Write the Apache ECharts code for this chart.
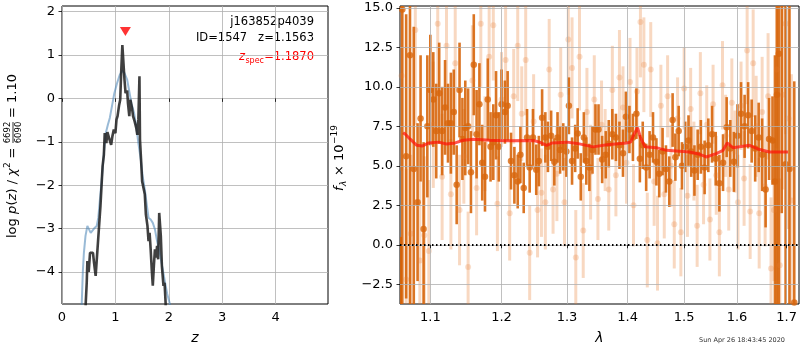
<!DOCTYPE html>
<html>
<head>
<meta charset="utf-8">
<script src="https://cdn.jsdelivr.net/npm/echarts@6/dist/echarts.min.js"></script>
<style>
  html, body { margin: 0; padding: 0; background: #fff; }
  #chart { width: 800px; height: 350px; }
</style>
</head>
<body>
<div id="chart"></div>
<script>
  // ---- left panel: log p(z) ----
  const zTicks = [0, 1, 2, 3, 4];
  const pTicks = [-4, -3, -2, -1, 0, 1, 2];
  const zDark = [0.43, 0.444, 0.463, 0.475, 0.5, 0.525, 0.556, 0.58, 0.6, 0.63, 0.66, 0.69, 0.72, 0.74, 0.76, 0.784, 0.80, 0.83, 0.85, 0.89, 0.92, 0.944, 0.97, 1.0, 1.02, 1.04, 1.07, 1.09, 1.11, 1.13, 1.15, 1.17, 1.19, 1.22, 1.235, 1.26, 1.28, 1.31, 1.33, 1.36, 1.39, 1.41, 1.43, 1.45, 1.46, 1.48, 1.50, 1.525, 1.55, 1.57, 1.60, 1.62, 1.64, 1.66, 1.68, 1.70, 1.72, 1.74, 1.76, 1.78, 1.80, 1.82, 1.85, 1.87, 1.90, 1.92, 1.94, 1.96];
  const pDark = [-6, -4.72, -4.25, -3.75, -4.0, -3.56, -3.59, -3.56, -3.79, -4.09, -4.11, -3.02, -2.48, -2.02, -1.56, -1.3, -0.80, -1.03, -0.78, -0.95, -1.07, -0.87, -0.72, -0.8, -0.49, -0.41, -0.15, -0.03, 0.66, 1.23, 1.2, 0.43, 0.12, 0.18, -0.11, -0.41, -0.03, -0.22, -0.41, -0.53, -0.68, -0.84, -0.49, 0.51, -0.95, -1.41, -1.91, -1.95, -2.21, -2.67, -2.94, -3.29, -3.1, -3.48, -3.94, -4.32, -3.86, -3.48, -3.67, -3.4, -3.71, -2.64, -3.17, -3.86, -4.32, -4.25, -4.72, -6];
  const zBlue = [0.36, 0.37, 0.39, 0.41, 0.44, 0.475, 0.506, 0.537, 0.56, 0.6, 0.65, 0.68, 0.71, 0.75, 0.784, 0.82, 0.86, 0.895, 0.94, 0.98, 1.03, 1.08, 1.13, 1.17, 1.22, 1.26, 1.30, 1.35, 1.39, 1.43, 1.475, 1.51, 1.55, 1.59, 1.62, 1.66, 1.70, 1.74, 1.78, 1.83, 1.88, 1.93, 1.97, 2.02, 2.06];
  const pBlue = [-6, -4.72, -4.0, -3.56, -3.17, -2.94, -2.98, -3.1, -3.13, -3.0, -2.94, -2.75, -2.33, -1.79, -1.26, -0.8, -0.6, -0.45, -0.15, 0.12, 0.35, 0.54, 0.64, 0.58, 0.43, 0.16, -0.11, -0.34, -0.64, -1.03, -1.41, -1.79, -2.1, -2.48, -2.75, -2.79, -2.87, -3.02, -3.29, -3.56, -3.9, -4.25, -4.51, -4.74, -5.2];
  const zSpec = 1.187;
  const zSpecMarkY = 1.54;

  // ---- right panel: spectrum ----
  const lamTicks = [1.1, 1.2, 1.3, 1.4, 1.5, 1.6, 1.7];
  const fTicks = [-2.5, 0, 2.5, 5, 7.5, 10, 12.5, 15];

  // combined spectrum (dark)
  const lamD = [1.061,
    1.063, 1.068, 1.073, 1.078, 1.083, 1.087, 1.091, 1.096,
    1.100, 1.104, 1.108, 1.112, 1.116, 1.120, 1.124, 1.128, 1.132, 1.136, 1.140, 1.144, 1.148, 1.152, 1.156, 1.160, 1.164, 1.168, 1.172, 1.176, 1.180, 1.184, 1.188, 1.192, 1.196,
    1.200, 1.205, 1.209, 1.214, 1.219, 1.224, 1.228, 1.233, 1.238, 1.242, 1.247, 1.252, 1.256, 1.261, 1.266, 1.270, 1.275, 1.280, 1.285, 1.289, 1.294, 1.299, 1.303, 1.308, 1.313, 1.317, 1.322, 1.327, 1.331, 1.336, 1.341, 1.346,
    1.351, 1.357, 1.363, 1.368, 1.374, 1.380, 1.386, 1.392, 1.397, 1.403, 1.409, 1.415, 1.421, 1.426, 1.432, 1.438, 1.444, 1.450, 1.455, 1.461, 1.467, 1.473, 1.479, 1.484, 1.490, 1.496, 1.502, 1.508, 1.513, 1.519, 1.525,
    1.531, 1.538, 1.545, 1.552, 1.559, 1.566, 1.573, 1.580, 1.587, 1.594, 1.601, 1.608, 1.615, 1.622, 1.629, 1.636, 1.643, 1.650, 1.657, 1.664, 1.671,
    1.676, 1.680, 1.684, 1.690, 1.698, 1.706, 1.716];
  const fD = [-6,
    14.9, 5.6, 12.0, 4.8, 2.7, 8.0, 1.0, 7.5,
    9.8, 9.2, 7.2, 9.6, 7.2, 8.7, 7.7, 7.7, 8.4, 3.8, 9.8, 6.7, 7.4, 7.5, 4.6, 11.4, 7.0, 8.9, 5.2, 4.3, 9.2, 6.2, 6.5, 8.2, 6.2,
    8.9, 8.4, 8.8, 5.3, 4.4, 4.0, 5.7, 3.6, 6.8, 4.9, 6.8, 4.75, 5.3, 8.05, 6.8, 6.2, 6.9, 5.25, 6.8, 6.0, 6.2, 5.9, 8.8, 5.3, 6.1, 7.05, 4.3, 6.8, 5.3, 4.9, 6.0, 7.3,
    7.3, 5.4, 5.7, 6.4, 7.0, 6.8, 6.3, 5.8, 8.1, 7.3, 6.8, 8.3, 5.45, 6.3, 4.9, 5.7, 6.8, 5.25, 4.5, 5.9, 4.8, 4.0, 7.9, 5.55, 7.2, 5.0, 6.2, 6.6, 5.9, 4.7, 5.7,
    6.2, 4.9, 6.3, 7.0, 5.45, 3.9, 5.2, 7.45, 6.1, 5.25, 6.9, 8.3, 7.5, 8.2, 7.2, 6.1, 6.8, 5.7, 3.5, 6.7, 6.6,
    4.0, 9.5, 12.1, 20, 5.1, 4.8, -3.65];
  const eD = [6.5,
    19, 9, 16, 9, 5, 4, 5.5, 4.5,
    3.5, 3, 3, 3.2, 2.8, 3, 2.5, 3.2, 2.7, 2.5, 3, 2.6, 3, 2.4, 2.6, 3.2, 2.8, 2.6, 2.4, 2.2, 2.6, 2.2, 2.4, 2.8, 2.2,
    2.2, 2, 2.2, 1.8, 1.8, 1.7, 1.8, 1.6, 1.8, 1.6, 1.8, 1.6, 1.6, 1.8, 1.6, 1.6, 1.6, 1.5, 1.6, 1.5, 1.5, 1.6, 1.8, 1.5, 1.5, 1.6, 1.5, 1.6, 1.5, 1.5, 1.5, 1.6,
    1.6, 1.5, 1.5, 1.5, 1.6, 1.5, 1.5, 1.5, 1.6, 1.5, 1.5, 1.6, 1.5, 1.5, 1.5, 1.5, 1.6, 1.5, 1.5, 1.5, 1.5, 1.6, 1.7, 1.5, 1.6, 1.5, 1.6, 1.6, 1.6, 1.6, 1.6,
    1.7, 1.7, 1.7, 1.8, 1.7, 1.8, 1.8, 1.9, 1.8, 1.9, 2, 2, 2, 2.1, 2, 2.1, 2.2, 2.3, 2.4, 2.6, 2.8,
    8, 14, 16, 18, 16, 16, 14];

  // individual beams (light)
  const lamL = [1.062, 1.068, 1.074, 1.080, 1.086, 1.092, 1.098, 1.104, 1.110, 1.116,
    1.122, 1.128, 1.134, 1.140, 1.146, 1.152, 1.158, 1.164, 1.170, 1.176,
    1.182, 1.188, 1.194, 1.200, 1.206, 1.212, 1.218, 1.224, 1.230, 1.236,
    1.242, 1.248, 1.254, 1.260, 1.266, 1.272, 1.278, 1.284, 1.290, 1.296,
    1.302, 1.308, 1.314, 1.320, 1.326, 1.332, 1.338, 1.344, 1.350, 1.356,
    1.362, 1.368, 1.374, 1.380, 1.386, 1.392, 1.398, 1.404, 1.410, 1.416,
    1.422, 1.428, 1.434, 1.440, 1.446, 1.452, 1.458, 1.464, 1.470, 1.476,
    1.482, 1.488, 1.494, 1.500, 1.506, 1.512, 1.518, 1.524, 1.530, 1.536,
    1.542, 1.548, 1.554, 1.560, 1.566, 1.572, 1.578, 1.584, 1.590, 1.596,
    1.602, 1.608, 1.614, 1.620, 1.626, 1.632, 1.638, 1.644, 1.650, 1.656,
    1.662, 1.668, 1.674, 1.680, 1.686, 1.692, 1.698, 1.704, 1.710];
  const fL = [10.7, -2.2, 0.7, 13.6, -1.0, 0.6, -0.4, 7.6, 14.0, 4.3,
    12.6, 3.2, 11.5, 2.2, 5.6, -1.4, 10.4, 3.6, 14.0, 6.4,
    11.9, 13.9, 2.6, 9.2, 11.7, 2.0, 9.4, 12.6, 8.3, 11.7,
    -0.5, 7.8, 2.2, 3.3, 2.7, 11.1, 3.5, 4.5, 9.5, 2.7,
    13.0, 11.2, -0.8, 11.9, 0.9, 8.4, 4.6, 9.2, 2.9, 7.6,
    6.0, 3.5, 9.8, 4.4, 10.6, 8.7, 5.2, 10.3, 2.5, 9.7,
    14.1, 11.4, 0.3, 11.1, 4.0, 0.1, 8.8, 3.2, 9.4, 5.0,
    1.3, 8.0, 0.8, 9.9, 3.1, 8.6, 5.3, 1.2, 9.6, 3.8,
    7.6, 1.6, 8.9, 4.4, 0.8, 10.1, 6.9, 3.5, 9.0, 5.9,
    2.7, 8.8, 4.2, 12.3, 2.1, 11.5, 7.5, 2.0, 8.4, 3.7,
    9.4, -1.5, 2.2, 11.1, -1.3, 9.5, 14.0, 8.0, 2.8];
  const eL = [6, 7, 5, 6, 5, 5, 4.5, 4, 4.5, 4,
    4, 3.5, 4, 3.5, 3, 3.5, 3.5, 3, 4, 3,
    3.5, 3.5, 3, 3, 3.5, 3, 3, 3.5, 3, 3.5,
    3, 3, 3, 2.8, 3, 3.2, 2.8, 3, 3, 2.8,
    3.5, 3.2, 3, 3.4, 3, 2.8, 3, 2.8, 2.6, 2.8,
    2.6, 2.6, 2.8, 2.6, 3, 2.6, 2.6, 2.8, 2.6, 2.8,
    3.5, 3, 3, 3, 2.8, 3, 2.6, 2.8, 2.6, 2.6,
    2.8, 2.6, 2.8, 2.6, 2.6, 2.6, 2.5, 2.6, 2.6, 2.5,
    2.5, 2.6, 2.5, 2.5, 2.8, 2.8, 2.6, 2.6, 2.8, 2.6,
    3, 2.8, 3, 3.4, 3, 3.4, 3.2, 3.5, 3.5, 3.8,
    4, 4.5, 4.5, 5, 5.5, 6, 7, 7, 8];

  // best-fit model (red)
  const lamM = [1.064, 1.067, 1.073, 1.082, 1.089, 1.098, 1.111, 1.122, 1.134, 1.145, 1.161, 1.183, 1.208, 1.248, 1.257, 1.268, 1.277, 1.300, 1.316, 1.342, 1.365, 1.398, 1.405, 1.411, 1.417, 1.422, 1.430, 1.450, 1.468, 1.510, 1.529, 1.541, 1.560, 1.573, 1.581, 1.592, 1.625, 1.645, 1.665, 1.703];
  const fM = [7.1, 7.0, 6.7, 6.3, 6.25, 6.45, 6.5, 6.38, 6.45, 6.62, 6.68, 6.62, 6.58, 6.6, 6.5, 6.3, 6.45, 6.5, 6.42, 6.2, 6.34, 6.45, 6.5, 7.0, 7.42, 6.8, 6.2, 6.15, 5.98, 5.88, 5.73, 5.56, 5.77, 5.98, 6.45, 6.15, 6.3, 6.03, 5.88, 5.88];

  const FONT = '"DejaVu Sans", sans-serif';
  const DARK = 'rgba(214,98,6,0.88)';
  const DARK_PT = 'rgb(216,102,12)';
  const LIGHT = 'rgba(232,125,50,0.3)';
  const neg = (s, v) => (v < 0 ? '\u2212' : '') + s;

  function axisCommon(ticks, fmt, z) {
    return {
      z: z,
      axisLine: { show: false },
      axisTick: { show: true, length: 3.5, customValues: ticks, lineStyle: { color: '#000', width: 0.8 } },
      axisLabel: { customValues: ticks, formatter: fmt, color: '#000', fontFamily: FONT, fontSize: 13, margin: 7 },
      splitLine: { show: true, lineStyle: { color: '#b0b0b0', width: 0.8 } }
    };
  }

  function errBar(color, w) {
    return function (params, api) {
      const x = api.value(0), y = api.value(1), e = api.value(2);
      const top = api.coord([x, y + e]);
      const bot = api.coord([x, y - e]);
      const rect = echarts.graphic.clipRectByRect(
        { x: top[0] - w / 2, y: top[1], width: w, height: bot[1] - top[1] },
        params.coordSys
      );
      return rect && { type: 'rect', shape: rect, style: { fill: color } };
    };
  }

  const chart = echarts.init(document.getElementById('chart'));
  const option = {
    animation: false,
    grid: [
      { left: 62, top: 6, width: 266, height: 298, show: true, borderColor: '#000', borderWidth: 1, outerBoundsMode: 'none' },
      { left: 400, top: 6, width: 399, height: 298, show: true, borderColor: '#000', borderWidth: 1, outerBoundsMode: 'none' }
    ],
    xAxis: [
      Object.assign(axisCommon(zTicks, v => String(v)), {
        type: 'value', gridIndex: 0, min: 0, max: 4.98,
        name: 'z', nameLocation: 'middle', nameGap: 27,
        nameTextStyle: { fontFamily: FONT, fontSize: 14, fontStyle: 'italic', color: '#000' }
      }),
      Object.assign(axisCommon(lamTicks.map(Math.log), v => Math.exp(v).toFixed(1), 3), {
        type: 'value', gridIndex: 1, min: Math.log(1.060), max: Math.log(1.726),
        name: 'λ', nameLocation: 'middle', nameGap: 27,
        nameTextStyle: { fontFamily: FONT, fontSize: 14, fontStyle: 'italic', color: '#000' }
      })
    ],
    yAxis: [
      Object.assign(axisCommon(pTicks, v => neg(String(Math.abs(v)), v)), {
        type: 'value', gridIndex: 0, min: -4.74, max: 2.13
      }),
      Object.assign(axisCommon(fTicks, v => neg(Math.abs(v).toFixed(1), v), 3), {
        type: 'value', gridIndex: 1, min: -3.75, max: 15.12
      })
    ],
    series: [
      {
        type: 'line', xAxisIndex: 0, yAxisIndex: 0, showSymbol: false, silent: true,
        data: zBlue.map((z, i) => [z, pBlue[i]]),
        lineStyle: { color: 'rgba(70,130,180,0.55)', width: 2 }
      },
      {
        type: 'line', xAxisIndex: 0, yAxisIndex: 0, showSymbol: false, silent: true,
        data: zDark.map((z, i) => [z, pDark[i]]),
        lineStyle: { color: 'rgba(30,30,30,0.85)', width: 2.6 }
      },
      {
        type: 'scatter', xAxisIndex: 0, yAxisIndex: 0, symbol: 'triangle', symbolRotate: 180,
        symbolSize: [11, 9], itemStyle: { color: '#ff0000' }, data: [[zSpec, zSpecMarkY]]
      },
      {
        type: 'custom', xAxisIndex: 1, yAxisIndex: 1, renderItem: errBar(LIGHT, 3), silent: true,
        data: lamL.map((l, i) => [Math.log(l), fL[i], eL[i]]), encode: { x: 0, y: 1 }
      },
      {
        type: 'scatter', xAxisIndex: 1, yAxisIndex: 1, symbolSize: 6, silent: true,
        itemStyle: { color: LIGHT }, data: lamL.map((l, i) => [Math.log(l), fL[i]])
      },
      {
        type: 'custom', xAxisIndex: 1, yAxisIndex: 1, renderItem: errBar(DARK, 2.6), silent: true,
        data: lamD.map((l, i) => [Math.log(l), fD[i], eD[i]]), encode: { x: 0, y: 1 }
      },
      {
        type: 'scatter', xAxisIndex: 1, yAxisIndex: 1, symbolSize: 6.5, silent: true,
        itemStyle: { color: DARK_PT }, data: lamD.map((l, i) => [Math.log(l), fD[i]]),
        markLine: {
          silent: true, symbol: ['none', 'none'], label: { show: false },
          lineStyle: { color: '#000', type: [1.5, 2.5], width: 1.8 },
          data: [{ yAxis: 0 }]
        }
      },
      {
        type: 'line', xAxisIndex: 1, yAxisIndex: 1, showSymbol: false, silent: true, z: 4,
        data: lamM.map((l, i) => [Math.log(l), fM[i]]),
        lineStyle: { color: 'rgba(255,20,10,0.72)', width: 3 }
      }
    ],
    graphic: [
      { type: 'text', x: 314, y: 22, style: { text: 'j163852p4039', align: 'right', verticalAlign: 'middle', font: '11.5px ' + FONT, fill: '#000' } },
      { type: 'text', x: 314, y: 38, style: { text: 'ID=1547   z=1.1563', align: 'right', verticalAlign: 'middle', font: '11.5px ' + FONT, fill: '#000' } },
      { type: 'text', x: 314, y: 57, style: { text: '=1.1870', align: 'right', verticalAlign: 'middle', font: '11.5px ' + FONT, fill: '#ff0000' } },
      { type: 'text', x: 264, y: 61, style: { text: 'spec', align: 'right', verticalAlign: 'middle', font: '8px ' + FONT, fill: '#ff0000' } },
      { type: 'text', x: 245, y: 57, style: { text: 'z', align: 'right', verticalAlign: 'middle', font: 'italic 11.5px ' + FONT, fill: '#ff0000' } },
      {
        type: 'group', x: 13, y: 156, rotation: Math.PI / 2,
        children: [
          { type: 'text', x: -82, y: 0, style: { text: 'log ', align: 'left', verticalAlign: 'middle', font: '13px ' + FONT, fill: '#000' } },
          { type: 'text', x: -58, y: 0, style: { text: 'p', align: 'left', verticalAlign: 'middle', font: 'italic 13px ' + FONT, fill: '#000' } },
          { type: 'text', x: -49.5, y: 0, style: { text: '(', align: 'left', verticalAlign: 'middle', font: '13px ' + FONT, fill: '#000' } },
          { type: 'text', x: -44.5, y: 0, style: { text: 'z', align: 'left', verticalAlign: 'middle', font: 'italic 13px ' + FONT, fill: '#000' } },
          { type: 'text', x: -37.5, y: 0, style: { text: ') / ', align: 'left', verticalAlign: 'middle', font: '13px ' + FONT, fill: '#000' } },
          { type: 'text', x: -20, y: 0, style: { text: 'χ', align: 'left', verticalAlign: 'middle', font: 'italic 13px ' + FONT, fill: '#000' } },
          { type: 'text', x: -12, y: -5, style: { text: '2', align: 'left', verticalAlign: 'middle', font: '9px ' + FONT, fill: '#000' } },
          { type: 'text', x: 3, y: 0, style: { text: '=', align: 'center', verticalAlign: 'middle', font: '13px ' + FONT, fill: '#000' } },
          { type: 'text', x: 23.5, y: -5, style: { text: '6692', align: 'center', verticalAlign: 'middle', font: '8.5px ' + FONT, fill: '#000' } },
          { type: 'rect', shape: { x: 13, y: -0.4, width: 21, height: 0.8 }, style: { fill: '#000' } },
          { type: 'text', x: 23.5, y: 5.5, style: { text: '6090', align: 'center', verticalAlign: 'middle', font: '8.5px ' + FONT, fill: '#000' } },
          { type: 'text', x: 38, y: 0, style: { text: '= 1.10', align: 'left', verticalAlign: 'middle', font: '13px ' + FONT, fill: '#000' } }
        ]
      },
      {
        type: 'group', x: 340, y: 157, rotation: Math.PI / 2,
        children: [
          { type: 'text', x: -34, y: 0, style: { text: 'f', align: 'left', verticalAlign: 'middle', font: 'italic 13px ' + FONT, fill: '#000' } },
          { type: 'text', x: -29, y: 3.5, style: { text: 'λ', align: 'left', verticalAlign: 'middle', font: 'italic 9px ' + FONT, fill: '#000' } },
          { type: 'text', x: -19, y: 0, style: { text: '× 10', align: 'left', verticalAlign: 'middle', font: '13px ' + FONT, fill: '#000' } },
          { type: 'text', x: 13, y: -5, style: { text: '\u221219', align: 'left', verticalAlign: 'middle', font: '9px ' + FONT, fill: '#000' } }
        ]
      },
      { type: 'text', x: 742, y: 340, style: { text: 'Sun Apr 26 18:43:45 2020', align: 'center', verticalAlign: 'middle', font: '6.5px ' + FONT, fill: '#333' } }
    ]
  };
  chart.setOption(option);
</script>
</body>
</html>
